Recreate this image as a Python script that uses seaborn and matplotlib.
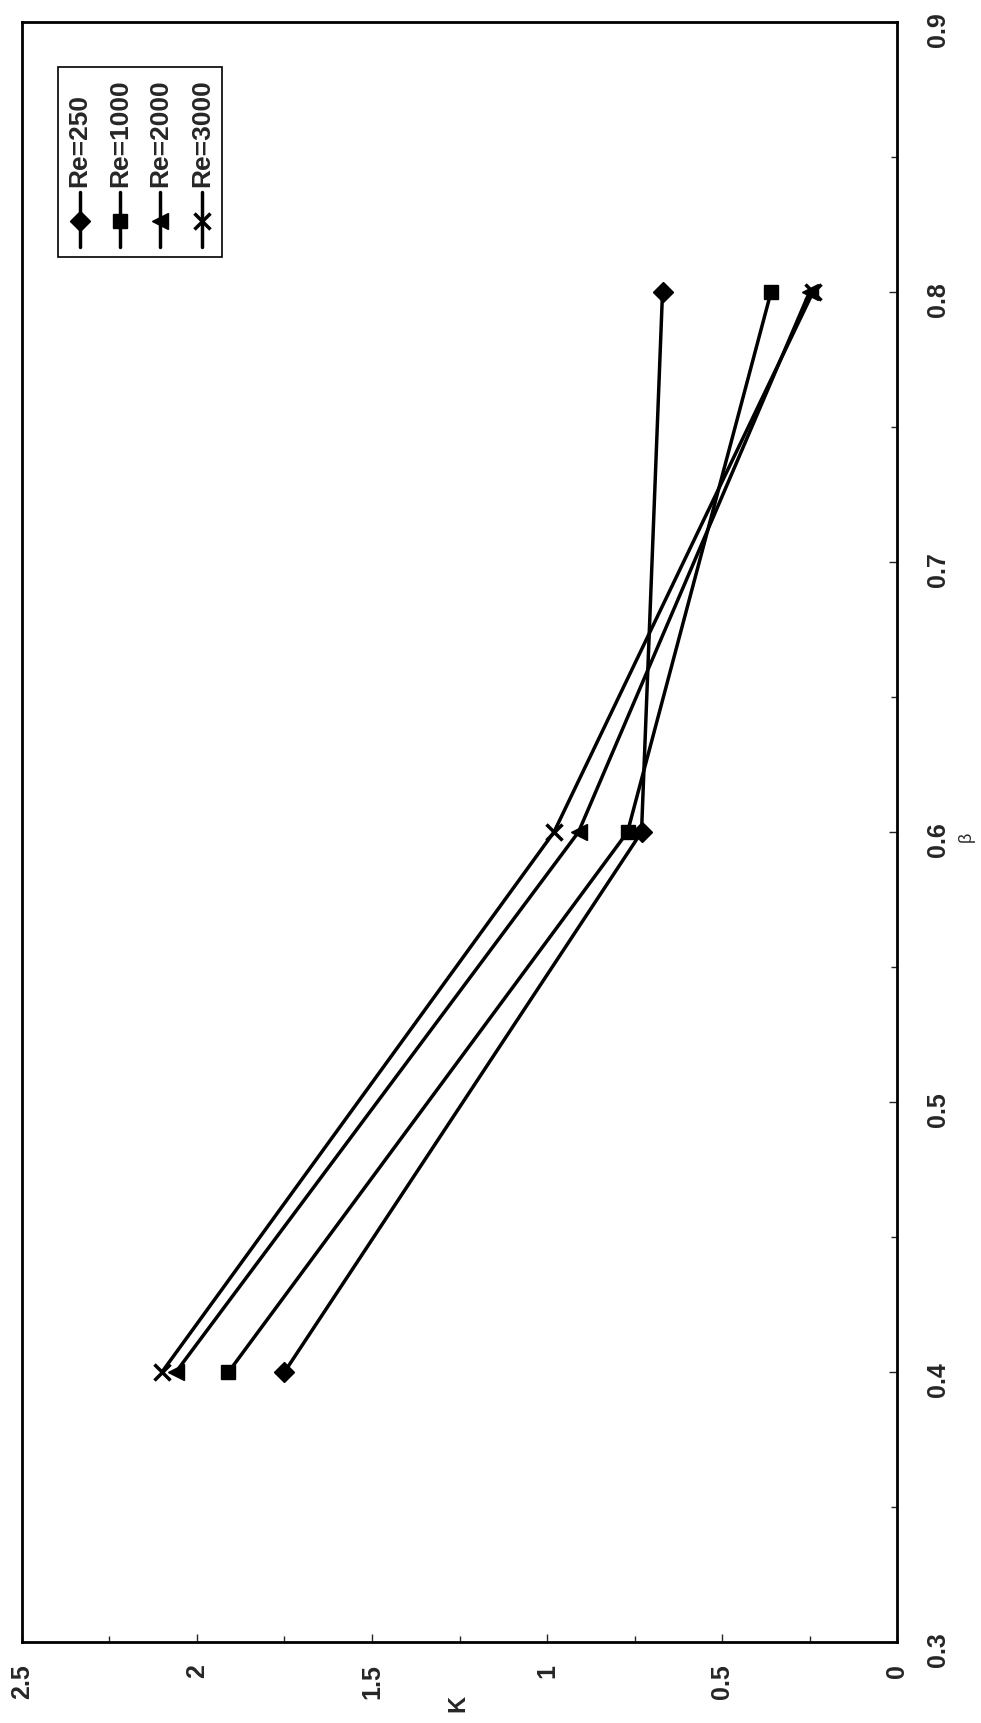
import numpy as np
import pandas as pd
import matplotlib
matplotlib.use("Agg")
import matplotlib.pyplot as plt
from matplotlib.ticker import MultipleLocator, FuncFormatter
from matplotlib.patches import Rectangle
import seaborn as sns

# values
beta = [0.4, 0.6, 0.8]
k_re250 = [1.75, 0.73, 0.67]
k_re1000 = [1.91, 0.77, 0.36]
k_re2000 = [2.06, 0.91, 0.25]
k_re3000 = [2.10, 0.98, 0.24]

series_names = ["Re=250", "Re=1000", "Re=2000", "Re=3000"]
series_k = [k_re250, k_re1000, k_re2000, k_re3000]
series_markers = ["D", "s", "<", "x"]
series_msize = [10, 10, 11, 11]

sns.set_style("ticks")
plt.rcParams["font.family"] = ["Liberation Sans", "DejaVu Sans"]
plt.rcParams["font.weight"] = "bold"

fig = plt.figure(figsize=(9.81, 17.23), dpi=100)
ax = fig.add_axes([0.0224, 0.047, 0.892, 0.9402])

# chart is drawn turned on its side: K runs along the bottom, beta up the right
for name, k, m, ms in zip(series_names, series_k, series_markers, series_msize):
    df = pd.DataFrame({"beta": beta, "K": k})
    sns.lineplot(data=df, x="K", y="beta", orient="y", sort=False, ax=ax,
                 color="black", linewidth=2.5, marker=m, markersize=ms,
                 markeredgewidth=2.5 if m == "x" else 1, markeredgecolor="black",
                 legend=False)

ax.set_xlim(2.5, 0)
ax.set_ylim(0.3, 0.9)

ax.xaxis.set_major_locator(MultipleLocator(0.5))
ax.xaxis.set_minor_locator(MultipleLocator(0.25))
ax.yaxis.set_major_locator(MultipleLocator(0.1))
ax.yaxis.set_minor_locator(MultipleLocator(0.05))
fmt = FuncFormatter(lambda v, p: "{:g}".format(round(v, 2)))
ax.xaxis.set_major_formatter(fmt)
ax.yaxis.set_major_formatter(fmt)

ax.yaxis.tick_right()
ax.tick_params(axis="x", which="both", direction="in", bottom=True, top=False,
               labelrotation=90, pad=16, labelsize=18, width=1)
ax.tick_params(axis="y", which="both", direction="in", right=True, left=False,
               labelrotation=90, pad=21, labelsize=18, width=1)
ax.tick_params(which="major", length=6)
ax.tick_params(which="minor", length=4)
for lab in ax.get_xticklabels() + ax.get_yticklabels():
    lab.set_fontweight("bold")

for side in ["left", "top", "right", "bottom"]:
    ax.spines[side].set_linewidth(2.0)
    ax.spines[side].set_color("black")

ax.set_xlabel("K", rotation=90, fontsize=17, fontweight="bold")
ax.xaxis.set_label_coords(0.498, -0.038)
ax.xaxis.label.set_va("center")
ax.set_ylabel("β", rotation=90, fontsize=13)
ax.yaxis.set_label_position("right")
ax.yaxis.set_label_coords(1.079, 0.497)
ax.yaxis.label.set_va("center")
ax.yaxis.label.set_ha("center")

# legend, turned like the rest of the chart
ax.add_patch(Rectangle((0.041, 0.855), 0.188, 0.117, transform=ax.transAxes,
                       facecolor="white", edgecolor="black", linewidth=1.2, zorder=5))
leg_x = [0.066, 0.112, 0.158, 0.206]
for name, m, ms, lx in zip(series_names, series_markers, series_msize, leg_x):
    ax.plot([lx, lx], [0.861, 0.895], transform=ax.transAxes, color="black",
            linewidth=2.5, zorder=6, clip_on=False)
    ax.plot([lx], [0.877], transform=ax.transAxes, color="black", marker=m,
            markersize=ms, markeredgewidth=2.5 if m == "x" else 1, zorder=7)
    ax.text(lx, 0.898, name, transform=ax.transAxes, rotation=90, ha="center",
            va="bottom", fontsize=19, fontweight="bold", zorder=7)

fig.savefig("out.png", dpi=100)
